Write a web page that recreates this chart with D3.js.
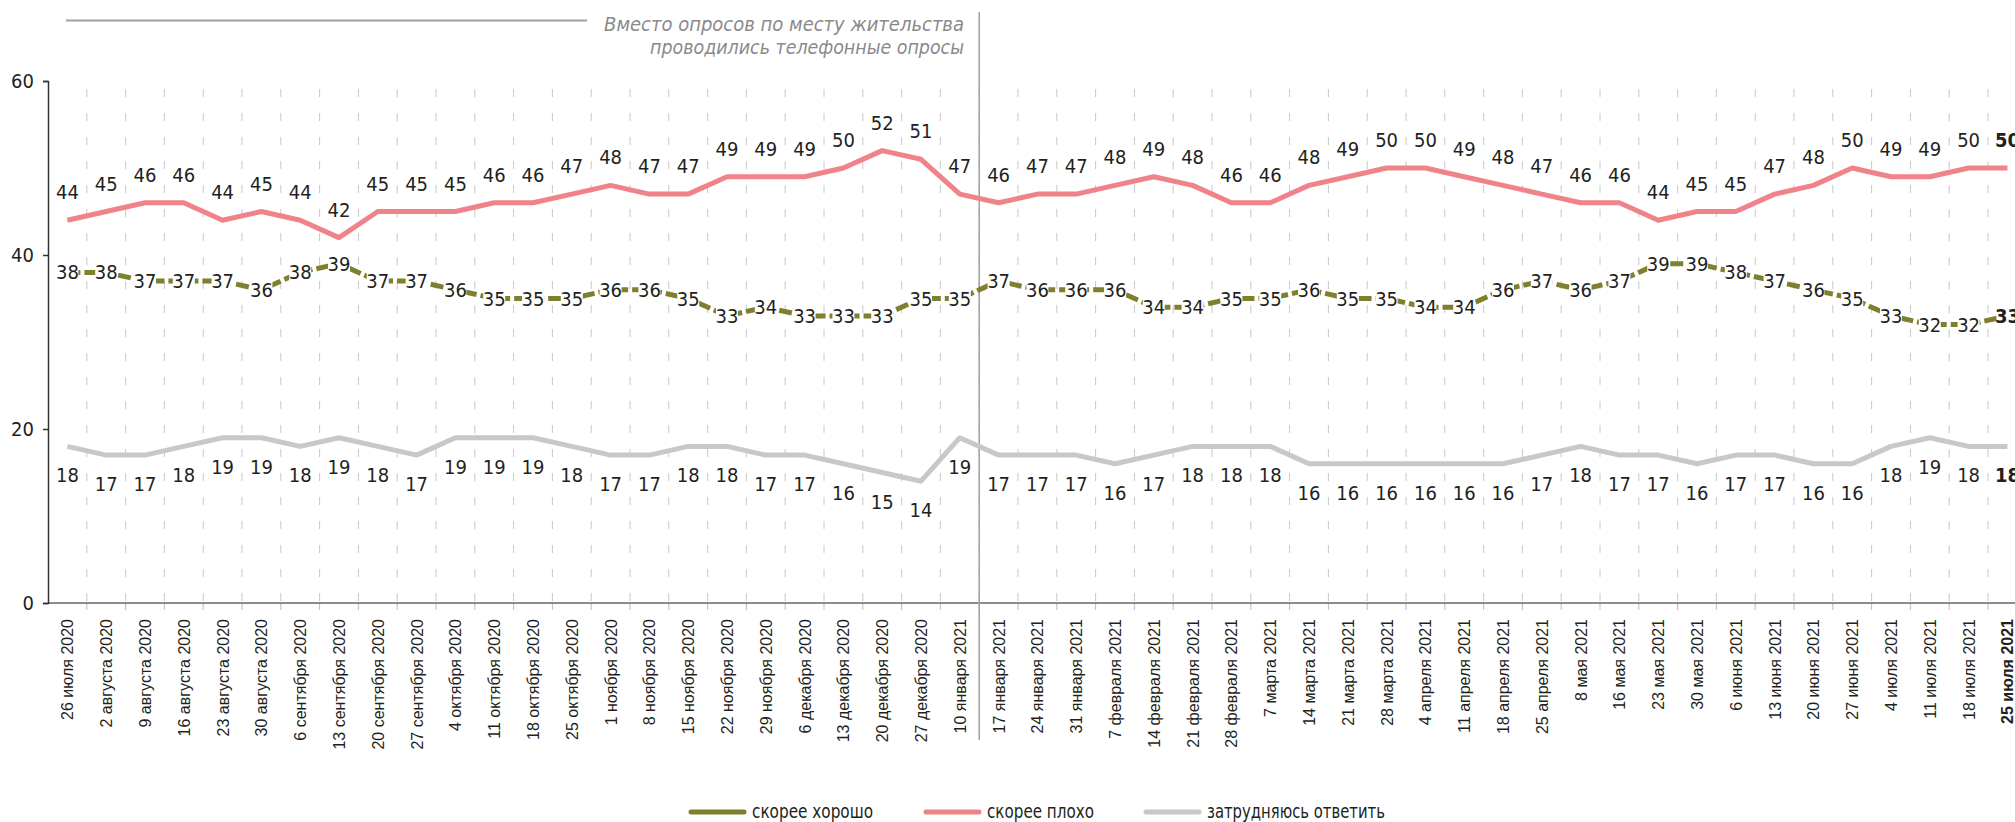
<!DOCTYPE html>
<html>
<head>
<meta charset="utf-8">
<script src="https://cdn.jsdelivr.net/npm/d3@7"></script>
<style>
  body { margin: 0; background: #fff; }
  svg { display: block; }
  .lbl { font-family: "Liberation Sans Narrow", "DejaVu Sans Condensed", sans-serif; font-size: 20px; fill: #231f20; }
</style>
</head>
<body>
<div id="plot"></div>
<script>
// chart values
var dates = [
  "26 июля 2020","2 августа 2020","9 августа 2020","16 августа 2020","23 августа 2020","30 августа 2020",
  "6 сентября 2020","13 сентября 2020","20 сентября 2020","27 сентября 2020","4 октября 2020","11 октября 2020",
  "18 октября 2020","25 октября 2020","1 ноября 2020","8 ноября 2020","15 ноября 2020","22 ноября 2020",
  "29 ноября 2020","6 декабря 2020","13 декабря 2020","20 декабря 2020","27 декабря 2020","10 января 2021",
  "17 января 2021","24 января 2021","31 января 2021","7 февраля 2021","14 февраля 2021","21 февраля 2021",
  "28 февраля 2021","7 марта 2021","14 марта 2021","21 марта 2021","28 марта 2021","4 апреля 2021",
  "11 апреля 2021","18 апреля 2021","25 апреля 2021","8 мая 2021","16 мая 2021","23 мая 2021",
  "30 мая 2021","6 июня 2021","13 июня 2021","20 июня 2021","27 июня 2021","4 июля 2021",
  "11 июля 2021","18 июля 2021","25 июля 2021"
];
var good = [38,38,37,37,37,36,38,39,37,37,36,35,35,35,36,36,35,33,34,33,33,33,35,
            35,37,36,36,36,34,34,35,35,36,35,35,34,34,36,37,36,37,39,39,38,37,36,35,33,32,32,33];
var bad = [44,45,46,46,44,45,44,42,45,45,45,46,46,47,48,47,47,49,49,49,50,52,51,
           47,46,47,47,48,49,48,46,46,48,49,50,50,49,48,47,46,46,44,45,45,47,48,50,49,49,50,50];
var hard = [18,17,17,18,19,19,18,19,18,17,19,19,19,18,17,17,18,18,17,17,16,15,14,
            19,17,17,17,16,17,18,18,18,16,16,16,16,16,16,17,18,17,17,16,17,17,16,16,18,19,18,18];
var yTicks = [0,20,40,60];
var seriesNames = ["скорее хорошо","скорее плохо","затрудняюсь ответить"];
var colors = ["#7f7f2e","#f0838a","#c8c8c8"];
var splitDate = "17 января 2021";
var noteLines = ["Вместо опросов по месту жительства","проводились телефонные опросы"];

var W = 2015, H = 822;
var svg = d3.select('#plot').append('svg').attr('width',W).attr('height',H);

var x = d3.scaleBand().domain(dates).range([48, 48 + 51*38.8]).padding(0);
var y = d3.scaleLinear().domain([0,60]).range([603,81]);
var cx = function(d){ return x(d) + x.bandwidth()/2; };
var last = dates.length - 1;

// dashed vertical grid at category boundaries
svg.append('g').selectAll('line')
    .data(dates.slice(1))
    .enter().append('line')
    .attr('x1', function(d){return x(d);}).attr('x2', function(d){return x(d);})
    .attr('y1', y(60)).attr('y2', y(0))
    .style('stroke','#c8c8c8').style('stroke-width',1)
    .style('stroke-dasharray','8,16').style('stroke-dashoffset',-8);

// small ticks under the x axis
svg.append('g').selectAll('line')
    .data(dates.slice(1))
    .enter().append('line')
    .attr('x1', function(d){return x(d);}).attr('x2', function(d){return x(d);})
    .attr('y1', y(0)).attr('y2', y(0)+7)
    .style('stroke','#bbb').style('stroke-width',1);

// x axis line
svg.append('line').attr('x1',48).attr('x2',W).attr('y1',y(0)).attr('y2',y(0))
    .style('stroke','#666').style('stroke-width',1.5);

// y axis
var yAxis = svg.append('g').attr('transform','translate(48,0)')
    .call(d3.axisLeft(y).tickValues(yTicks).tickSize(5).tickPadding(9));
yAxis.select('.domain').style('stroke','#333').style('stroke-width',1.5);
yAxis.selectAll('.tick line').style('stroke','#333').style('stroke-width',1.5);
yAxis.selectAll('text').attr('class','lbl').style('font-size','20px');

// x labels, rotated
svg.append('g').selectAll('text')
    .data(dates)
    .enter().append('text')
    .attr('transform', function(d){ return 'translate(' + (cx(d)+6) + ',619) rotate(-90)'; })
    .attr('text-anchor','end')
    .style('font-family','"Liberation Sans", Arial, sans-serif')
    .style('font-size','16px')
    .style('font-weight', function(d,i){ return i==last ? 'bold' : 'normal'; })
    .style('fill','#231f20')
    .text(function(d){return d;});

// separator + note
svg.append('line').attr('x1',x(splitDate)).attr('x2',x(splitDate)).attr('y1',12).attr('y2',740)
    .style('stroke','#a0a0a0').style('stroke-width',1.5);
svg.append('line').attr('x1',66).attr('x2',587).attr('y1',20.5).attr('y2',20.5)
    .style('stroke','#a0a0a0').style('stroke-width',2);
var noteW = [null, 314];
svg.append('g').selectAll('text')
    .data(noteLines)
    .enter().append('text')
    .attr('x',964).attr('y',function(d,i){return 31 + i*23;})
    .attr('text-anchor','end')
    .attr('class','lbl')
    .attr('textLength', function(d,i){return noteW[i];})
    .attr('lengthAdjust','spacingAndGlyphs')
    .style('font-style','italic').style('font-size','20px').style('fill','#8a8a8a')
    .text(function(d){return d;});

var line = function(vals){
    return d3.line().x(function(d,i){return cx(dates[i]);}).y(function(d){return y(d);})(vals);
};

// lines
svg.append('path').attr('d', line(hard)).style('fill','none')
    .style('stroke',colors[2]).style('stroke-width',5).style('stroke-linejoin','round');
svg.append('path').attr('d', line(bad)).style('fill','none')
    .style('stroke',colors[1]).style('stroke-width',5).style('stroke-linejoin','round');
svg.append('path').attr('d', line(good)).style('fill','none')
    .style('stroke',colors[0]).style('stroke-width',5).style('stroke-dasharray','13,4');

// labels
function labels(vals, dy, box){
    var g = svg.append('g').selectAll('g')
        .data(vals).enter().append('g')
        .attr('transform', function(d,i){ return 'translate(' + cx(dates[i]) + ',' + y(d) + ')'; });
    if (box) {
        g.append('rect').attr('x',-11).attr('y',-8).attr('width',22).attr('height',16).style('fill','#fff');
    }
    g.append('text').attr('class','lbl')
        .attr('text-anchor','middle').attr('y', dy)
        .style('font-weight', function(d,i){ return i==last ? 'bold' : 'normal'; })
        .text(function(d){return d;});
}
labels(bad, -21, false);
labels(hard, 36, false);
labels(good, 7, true);

// legend
var legX = [689, 924, 1144];
var legW = [121, 107, 178];
var leg = svg.append('g').selectAll('g').data(seriesNames).enter().append('g')
    .attr('transform', function(d,i){ return 'translate(' + legX[i] + ',812)'; });
leg.append('line').attr('x1',2).attr('x2',55).attr('y1',0).attr('y2',0)
    .style('stroke', function(d,i){return colors[i];}).style('stroke-width',5).style('stroke-linecap','round');
leg.append('text').attr('class','lbl').attr('x',63).attr('y',6).style('font-size','19px')
    .attr('textLength', function(d,i){return legW[i];}).attr('lengthAdjust','spacingAndGlyphs')
    .text(function(d){return d;});
</script>
</body>
</html>
